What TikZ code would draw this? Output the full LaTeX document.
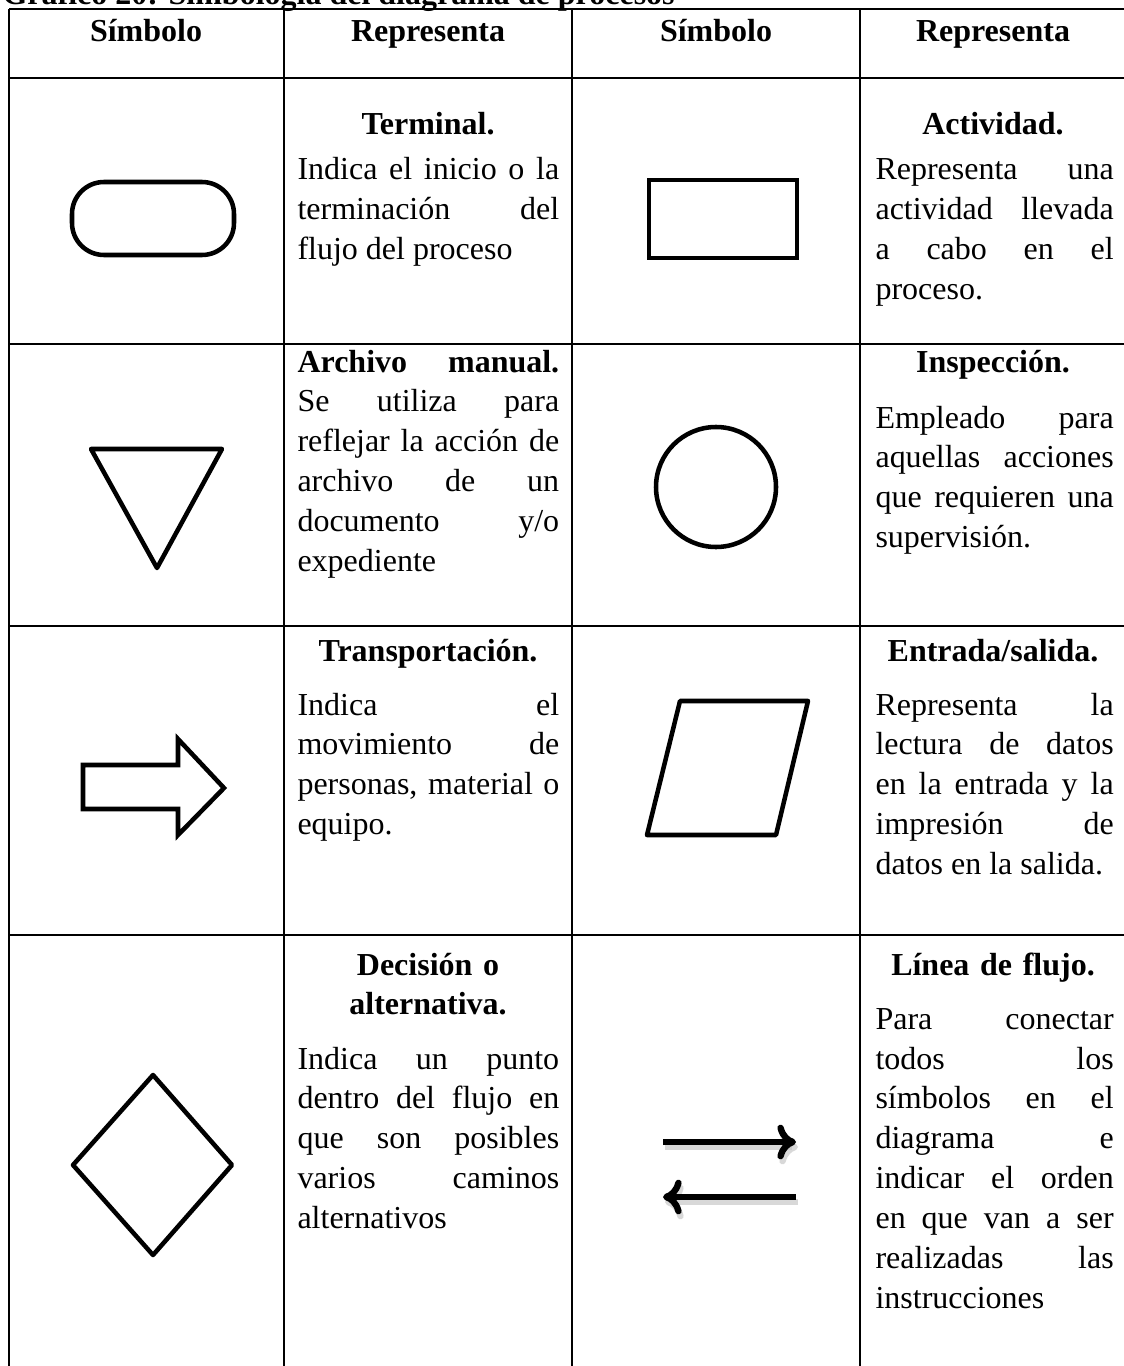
\documentclass[tikz,border=0pt]{standalone}
\usepackage{fontspec}
\setmainfont{Liberation Serif}
\usetikzlibrary{arrows.meta,calc}
\tolerance=10000
\hbadness=10000

\begin{document}
\begin{tikzpicture}[x=0.01318cm, y=-0.01318cm]
		\tikzstyle{every node}=[inner sep=0pt, font=\fontsize{12pt}{15pt}\selectfont]
		\tikzstyle{tablerule}=[line width=1.1pt]
		\tikzstyle{simbolo}=[line width=1.7pt, line join=round]
		\tikzstyle{titulo}=[font=\fontsize{12pt}{15pt}\selectfont\bfseries, align=center, anchor=base]
		\tikzstyle{textob}=[text width=3.45cm, align=justify, anchor=base west]
		\tikzstyle{textod}=[text width=3.14cm, align=justify, anchor=base west]
		\tikzstyle{flecha}=[line width=2.4pt, -{Computer Modern Rightarrow[length=7pt,width=13pt]}]
		\tikzstyle{sombra}=[flecha, black!25, opacity=0.6]
		\useasboundingbox (0,0) rectangle (1124,1366);
		\fill [white] (0,0) rectangle (1124,1366);
		% caption, cut at the top
		\node [font=\fontsize{12pt}{14pt}\selectfont\bfseries, anchor=base west] (grafico) at (2,5) {Gráfico 20: Simbología del diagrama de procesos};
		% table rules
		\draw [tablerule] (9,9) -- (1130,9);
		\draw [tablerule] (9,78) -- (1130,78);
		\draw [tablerule] (9,344) -- (1130,344);
		\draw [tablerule] (9,626) -- (1130,626);
		\draw [tablerule] (9,935) -- (1130,935);
		\draw [tablerule] (9,9) -- (9,1370);
		\draw [tablerule] (284,9) -- (284,1370);
		\draw [tablerule] (572,9) -- (572,1370);
		\draw [tablerule] (860,9) -- (860,1370);
		% header
		\node [titulo] (simA) at (146,42) {Símbolo};
		\node [titulo] (repA) at (428,42) {Representa};
		\node [titulo] (simB) at (716,42) {Símbolo};
		\node [titulo] (repB) at (993,42) {Representa};
		% row 1
		\draw [simbolo, rounded corners=12pt] (72,182) rectangle (234,255);
		\node [titulo, text width=3.45cm] (terminal) at (428,135) {Terminal.};
		\node [textob] (terminalT) at (297,180) {Indica el inicio o la\linebreak terminación del\linebreak flujo del proceso};
		\draw [simbolo, line join=miter] (649,180) rectangle (797,258);
		\node [titulo, text width=3.14cm] (actividad) at (993,135) {Actividad.};
		\node [textod] (actividadT) at (875,180) {Representa una\linebreak actividad llevada\linebreak a cabo en el\linebreak proceso.};
		% row 2
		\draw [simbolo] (91,449) -- (222,449) -- (157,568) -- cycle;
		\node [textob] (archivoT) at (297,372) {\textbf{Archivo manual.}\linebreak Se utiliza para\linebreak reflejar la acción de\linebreak archivo de un\linebreak documento y/o\linebreak expediente};
		\draw [simbolo] (716,487) circle (60);
		\node [titulo, text width=3.14cm] (inspeccion) at (993,372) {Inspección.};
		\node [textod] (inspeccionT) at (875,428) {Empleado para\linebreak aquellas acciones\linebreak que requieren una\linebreak supervisión.};
		% row 3
		\draw [simbolo, line join=miter] (83,765) -- (178,765) -- (178,739) -- (224,788) -- (178,835) -- (178,809) -- (83,809) -- cycle;
		\node [titulo, text width=3.45cm] (transporte) at (428,661) {Transportación.};
		\node [textob] (transporteT) at (297,715) {Indica el\linebreak movimiento de\linebreak personas, material o\linebreak equipo.};
		\draw [simbolo] (680,701) -- (808,701) -- (776,835) -- (647,835) -- cycle;
		\node [titulo, text width=3.14cm] (entrada) at (993,661) {Entrada/salida.};
		\node [textod] (entradaT) at (875,715) {Representa la\linebreak lectura de datos\linebreak en la entrada y la\linebreak impresión de\linebreak datos en la salida.};
		% row 4
		\draw [simbolo] (153,1075) -- (232,1165) -- (153,1255) -- (73,1165) -- cycle;
		\node [titulo, text width=3.45cm] (decision) at (428,975) {Decisión o alternativa.};
		\node [textob] (decisionT) at (297,1069) {Indica un punto\linebreak dentro del flujo en\linebreak que son posibles\linebreak varios caminos\linebreak alternativos};
		\coordinate (ida1) at (663,1142);
		\coordinate (ida2) at (796,1142);
		\coordinate (vuelta1) at (796,1197);
		\coordinate (vuelta2) at (663,1197);
		\draw [sombra] ($(ida1)+(2,5)$) -- ($(ida2)+(2,5)$);
		\draw [sombra] ($(vuelta1)+(2,5)$) -- ($(vuelta2)+(2,5)$);
		\draw [flecha] (ida1) -- (ida2);
		\draw [flecha] (vuelta1) -- (vuelta2);
		\node [titulo, text width=3.14cm] (linea) at (993,975) {Línea de flujo.};
		\node [textod] (lineaT) at (875,1029) {Para conectar\linebreak todos los\linebreak símbolos en el\linebreak diagrama e\linebreak indicar el orden\linebreak en que van a ser\linebreak realizadas las\linebreak instrucciones};
\end{tikzpicture}
\end{document}
